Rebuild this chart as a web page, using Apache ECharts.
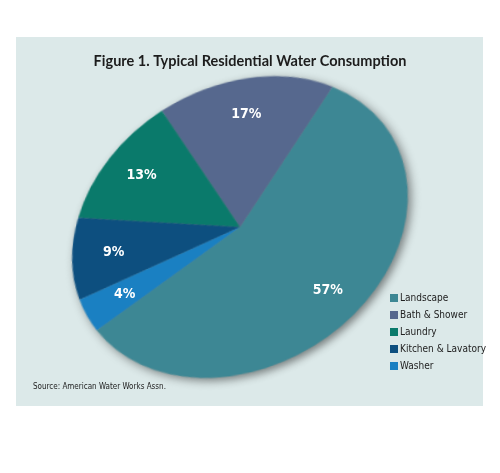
<!DOCTYPE html>
<html><head><meta charset="utf-8">
<script src="https://cdn.jsdelivr.net/npm/echarts@6/dist/echarts.min.js"></script>
<style>
html,body{margin:0;padding:0;background:#fff;width:500px;height:473px;overflow:hidden}
#panel{position:absolute;left:16px;top:37px;width:467px;height:369px;background:#dce9e9}
#pie{position:absolute;left:40px;top:27px;width:400px;height:400px;transform-origin:200px 200px;transform:rotate(-31.3deg) scaleX(1.264) rotate(31.3deg);filter:drop-shadow(3px 3px 4px rgba(0,0,0,0.45))}
#main{position:absolute;left:0;top:0;width:500px;height:473px}
</style></head><body>
<div id="panel"></div><div id="pie"></div><div id="main"></div>
<script>
const categories = ['Landscape', 'Bath & Shower', 'Laundry', 'Kitchen & Lavatory', 'Washer'];
const shares = [57, 17, 13, 9, 4];
const titleText = 'Figure 1. Typical Residential Water Consumption';
const sourceText = 'Source: American Water Works Assn.';

const colors = ['#3d8794', '#56688e', '#0a7a6b', '#0d4f7f', '#1a80c2'];
const narrow = "'Liberation Sans Narrow', 'DejaVu Sans Condensed', 'Roboto', sans-serif";

const pieData = categories.map((n, i) => ({ name: n, value: shares[i] }));

// Pie shapes (stretched into a tilted ellipse by the container's CSS transform)
const pieChart = echarts.init(document.getElementById('pie'), null, { renderer: 'canvas' });
pieChart.setOption({
  animation: false,
  color: colors,
  series: [{
    type: 'pie',
    center: ['50%', '50%'],
    radius: 140,
    startAngle: 217,
    clockwise: false,
    silent: true,
    label: { show: false },
    labelLine: { show: false },
    itemStyle: { borderWidth: 0 },
    data: pieData
  }]
});

// Overlay: title, legend, source, and undistorted labels
const CX = 240, CY = 227, K = 1.264, PHI = 31.3 * Math.PI / 180;
const ux = Math.cos(PHI), uy = -Math.sin(PHI);
const chart = echarts.init(document.getElementById('main'), null, { renderer: 'canvas' });
chart.setOption({
  animation: false,
  color: colors,
  title: {
    text: titleText,
    left: 'center',
    top: 49,
    textStyle: { fontFamily: 'Lato', fontWeight: 'bold', fontSize: 14.5, color: '#1c1c1c' }
  },
  legend: {
    orient: 'vertical',
    left: 385,
    top: 287,
    icon: 'rect',
    itemWidth: 8,
    itemHeight: 8,
    itemGap: 5,
    selectedMode: false,
    textStyle: { fontFamily: narrow, fontSize: 10, lineHeight: 12, color: '#222', padding: [0, 0, 0, -3] },
    data: categories.map((n, i) => ({ name: n, itemStyle: { color: colors[i] } }))
  },
  graphic: [{
    type: 'text',
    left: 33,
    top: 383,
    style: { text: sourceText, fontFamily: narrow, fontSize: 8, fill: '#222' }
  }],
  series: [{
    type: 'pie',
    center: [CX, CY],
    radius: 205,
    startAngle: 217,
    clockwise: false,
    silent: true,
    avoidLabelOverlap: false,
    itemStyle: { color: 'rgba(0,0,0,0)' },
    emphasis: { disabled: true },
    label: {
      show: true,
      position: 'inside',
      formatter: '{c}%',
      color: '#fff',
      fontFamily: narrow,
      fontWeight: 'bold',
      fontSize: 14
    },
    labelLine: { show: false },
    labelLayout: function (p) {
      const r = p.labelRect;
      const dx = r.x + r.width / 2 - CX, dy = r.y + r.height / 2 - CY;
      const du = dx * ux + dy * uy;
      return { x: CX + dx + (K - 1) * du * ux, y: CY + dy + (K - 1) * du * uy };
    },
    data: pieData
  }]
});
</script>
</body></html>
